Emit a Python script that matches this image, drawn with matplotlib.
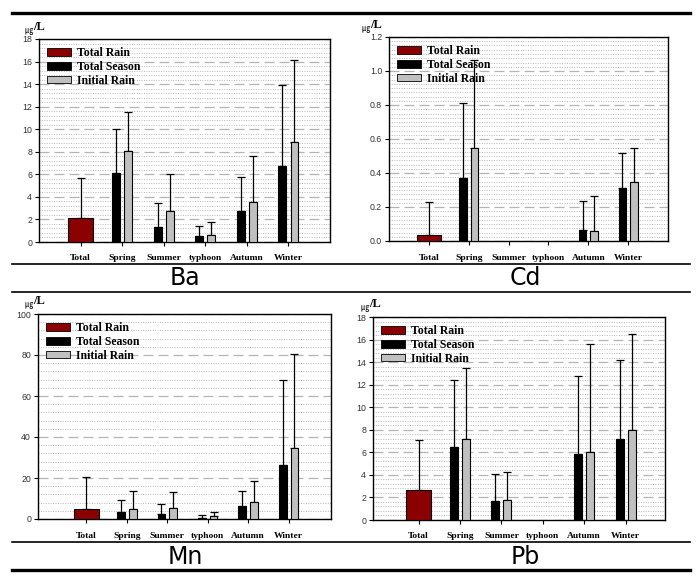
import numpy as np
import matplotlib
matplotlib.use("Agg")
import matplotlib.pyplot as plt
from matplotlib.patches import Patch
from matplotlib.ticker import MultipleLocator, FormatStrFormatter

categories = ["Total", "Spring", "Summer", "typhoon", "Autumn", "Winter"]
seasons = categories[1:]

# Ba (ug/L)
ba_total, ba_total_sd = 2.15, 3.5
ba_season = [6.1, 1.35, 0.55, 2.75, 6.75]
ba_season_sd = [3.9, 2.1, 0.85, 3.0, 7.15]
ba_initial = [8.05, 2.75, 0.6, 3.55, 8.85]
ba_initial_sd = [3.45, 3.25, 1.15, 4.05, 7.3]

# Cd (ug/L) -- no data for Summer / typhoon
cd_total, cd_total_sd = 0.035, 0.195
cd_season = [0.37, np.nan, np.nan, 0.065, 0.31]
cd_season_sd = [0.44, np.nan, np.nan, 0.17, 0.205]
cd_initial = [0.545, np.nan, np.nan, 0.06, 0.345]
cd_initial_sd = [0.52, np.nan, np.nan, 0.205, 0.205]

# Mn (ug/L)
mn_total, mn_total_sd = 5.0, 15.5
mn_season = [3.5, 2.5, 0.5, 6.5, 26.3]
mn_season_sd = [6.0, 4.7, 1.3, 7.0, 41.7]
mn_initial = [5.0, 5.5, 1.5, 8.3, 34.6]
mn_initial_sd = [8.5, 7.5, 1.8, 10.2, 45.9]

# Pb (ug/L) -- no data for typhoon
pb_total, pb_total_sd = 2.65, 4.4
pb_season = [6.5, 1.65, np.nan, 5.85, 7.15]
pb_season_sd = [5.9, 2.4, np.nan, 6.95, 7.05]
pb_initial = [7.15, 1.75, np.nan, 6.0, 8.0]
pb_initial_sd = [6.35, 2.55, np.nan, 9.6, 8.5]

RED = "#8b0000"
GRAY = "#c0c0c0"
SERIF = "Liberation Serif"
SANS = "Liberation Sans"

W, H = 697, 576


def px_rect(x0, y0, x1, y1):
    return [x0 / W, 1 - y1 / H, (x1 - x0) / W, (y1 - y0) / H]


def panel(fig, rect, xlim, total, total_sd, season, season_sd, initial, initial_sd,
          ymax, major, minor, fmt, unit_xy, label, label_xy):
    ax = fig.add_axes(px_rect(*rect))
    ax.set_axisbelow(True)
    x = np.arange(1, len(seasons) + 1)
    ekw = dict(elinewidth=0.9, capthick=0.9, ecolor="black")
    ax.bar(0, total, width=0.6, color=RED, edgecolor="black", lw=0.8, zorder=3)
    ax.errorbar(0, total, yerr=[[0], [total_sd]], fmt="none", capsize=3, zorder=2, **ekw)
    ax.bar(x - 0.145, season, width=0.19, color="black", edgecolor="black", lw=0.8, zorder=3)
    ax.errorbar(x - 0.145, season, yerr=[np.zeros(5), season_sd], fmt="none",
                capsize=3, zorder=2, **ekw)
    ax.bar(x + 0.145, initial, width=0.19, color=GRAY, edgecolor="black", lw=0.8, zorder=3)
    ax.errorbar(x + 0.145, initial, yerr=[np.zeros(5), initial_sd], fmt="none",
                capsize=3, zorder=2, **ekw)

    ax.set_xlim(*xlim)
    ax.set_ylim(0, ymax)
    ax.yaxis.set_major_locator(MultipleLocator(major))
    ax.yaxis.set_minor_locator(MultipleLocator(minor))
    ax.yaxis.set_major_formatter(FormatStrFormatter(fmt))
    ax.set_xticks(range(len(categories)))
    ax.set_xticklabels(categories, fontfamily=SERIF, fontweight="bold", fontsize=6.8)
    ax.tick_params(axis="y", which="major", labelsize=6.3, length=3, width=0.8,
                   pad=2, labelcolor="#333333")
    ax.tick_params(axis="y", which="minor", length=0)
    ax.tick_params(axis="x", length=3, width=0.8, pad=6)
    for t in ax.get_yticklabels():
        t.set_fontfamily(SANS)
    ax.grid(True, axis="y", which="major", color="#b4b4b4", lw=0.9, ls=(0, (8, 4)))
    ax.grid(True, axis="y", which="minor", color="#b8b8b8", lw=0.7, ls=(0, (1, 1.5)))
    for s in ax.spines.values():
        s.set_linewidth(1.0)

    handles = [Patch(facecolor=RED, edgecolor="black", lw=0.6, label="Total Rain"),
               Patch(facecolor="black", edgecolor="black", lw=0.6, label="Total Season"),
               Patch(facecolor=GRAY, edgecolor="black", lw=0.6, label="Initial Rain")]
    ax.legend(handles=handles, loc="upper left", frameon=False, handlelength=2.0,
              handleheight=0.6, handletextpad=0.5, labelspacing=0.15,
              borderaxespad=0.3, prop=dict(family=SERIF, weight="bold", size=8.5))

    ux, uy = unit_xy
    fig.text(ux / W, 1 - uy / H, "\u338d", fontsize=6,
             family=["Noto Sans CJK KR", "DejaVu Sans"], ha="left", va="baseline")
    fig.text((ux + 8) / W, 1 - (uy - 3) / H, "/L", fontsize=9,
             family=SERIF, weight="bold", ha="left", va="baseline")
    fig.text(label_xy[0] / W, 1 - label_xy[1] / H, label, fontsize=17,
             family="Liberation Sans Narrow", ha="center", va="center")
    return ax


fig = plt.figure(figsize=(W / 100, H / 100), dpi=100)

panel(fig, (39, 39, 330, 242), (-1, 6), ba_total, ba_total_sd, ba_season, ba_season_sd,
      ba_initial, ba_initial_sd, 18, 2, 0.4, "%d", (25, 33), "Ba", (185, 278))
panel(fig, (389, 37, 668, 241), (-1, 6), cd_total, cd_total_sd, cd_season, cd_season_sd,
      cd_initial, cd_initial_sd, 1.2, 0.2, 0.025, "%.1f", (362, 31), "Cd", (525, 278))
panel(fig, (38, 314, 331, 519), (-1.2, 6.05), mn_total, mn_total_sd, mn_season,
      mn_season_sd, mn_initial, mn_initial_sd, 100, 20, 4, "%d", (25, 307),
      "Mn", (185, 557))
panel(fig, (373, 317, 665, 520), (-1.1, 5.95), pb_total, pb_total_sd, pb_season,
      pb_season_sd, pb_initial, pb_initial_sd, 18, 2, 0.4, "%d", (361, 310),
      "Pb", (525, 557))

# table rules
for y, lw in [(13, 2.4), (264, 1.2), (292, 1.2), (542, 1.2), (570, 2.4)]:
    fig.add_artist(plt.Line2D([12 / W, 690 / W], [1 - y / H, 1 - y / H],
                              color="black", lw=lw))

fig.savefig("out.png", dpi=100)
